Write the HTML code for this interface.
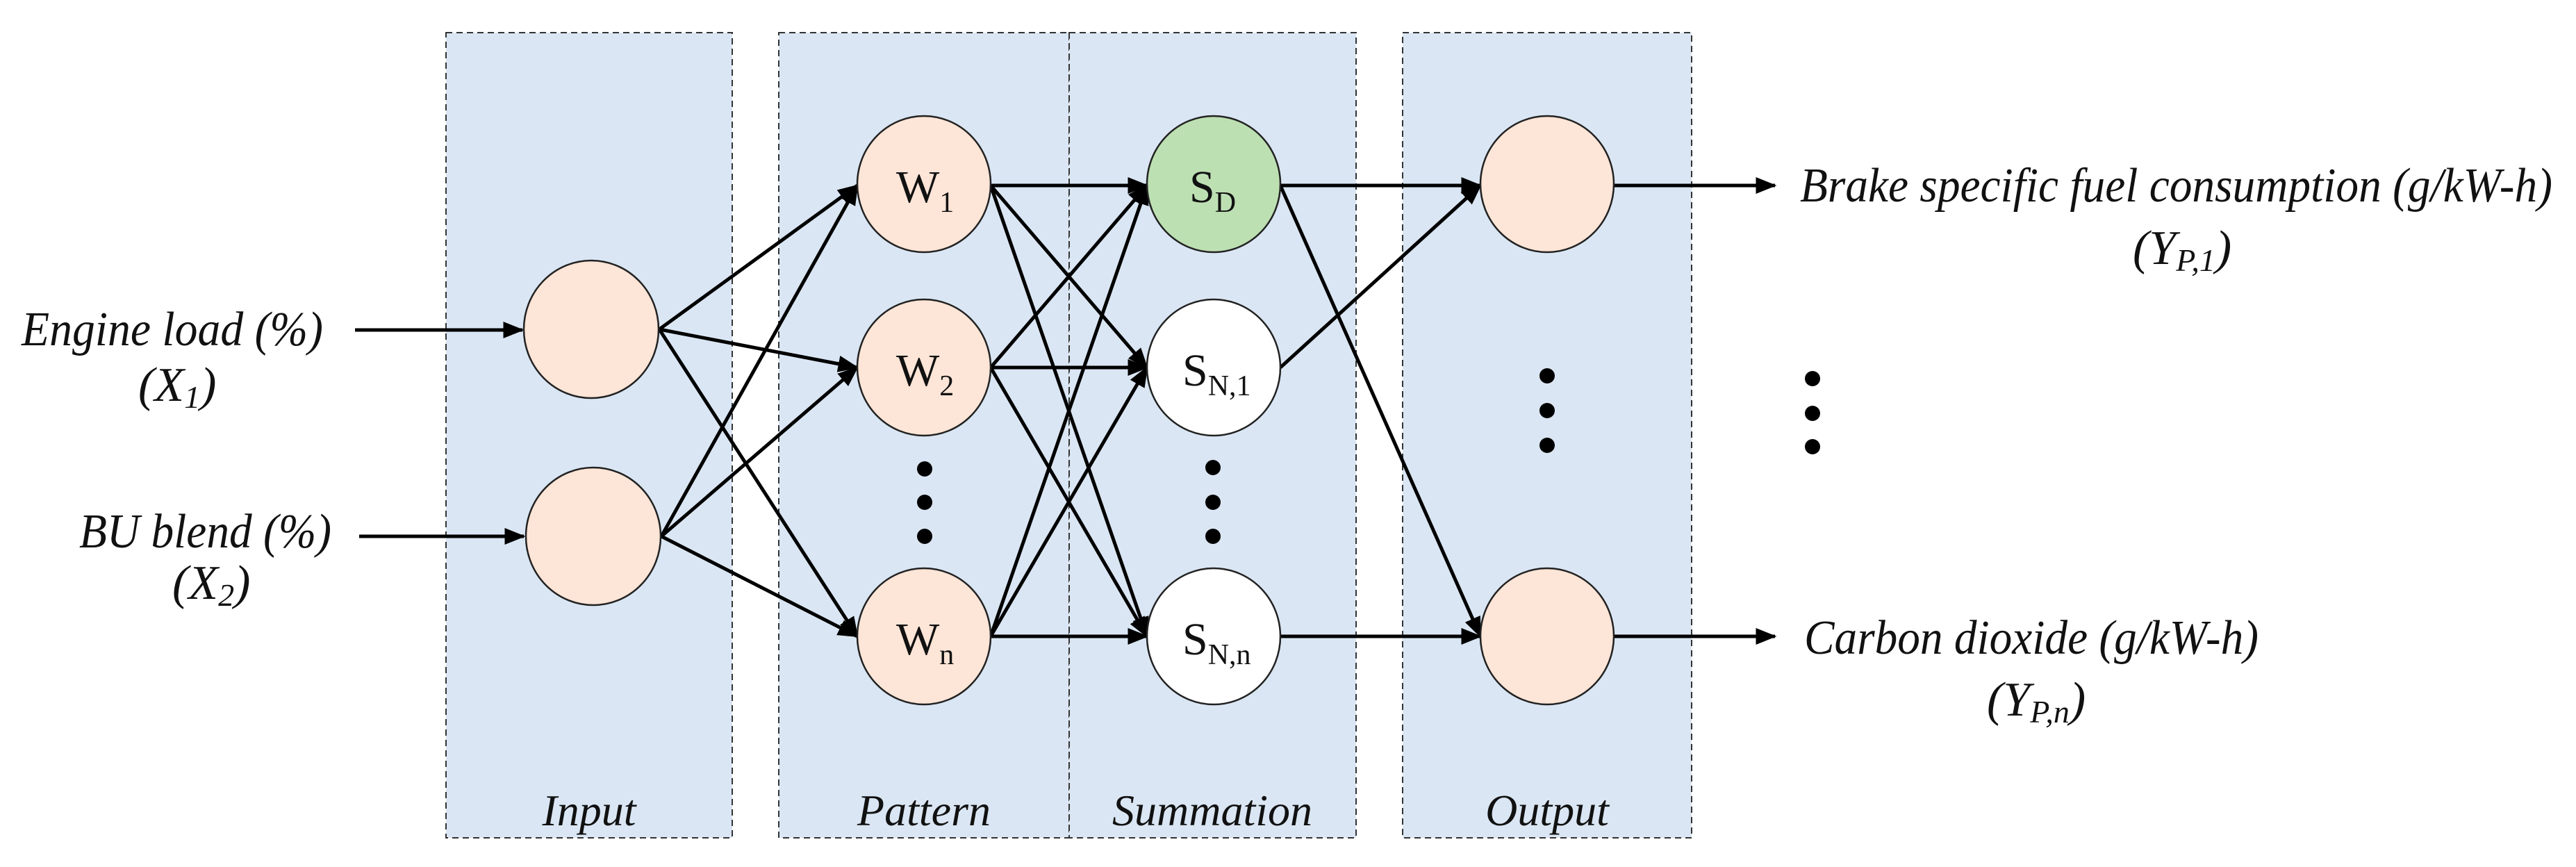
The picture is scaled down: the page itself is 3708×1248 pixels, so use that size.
<!DOCTYPE html>
<html><head><meta charset="utf-8"><style>
html,body{margin:0;padding:0;background:#fff;}
svg{display:block;}
</style></head><body>
<svg width="3708" height="1248" viewBox="0 0 3708 1248" xmlns="http://www.w3.org/2000/svg" font-family="'Liberation Serif', 'Times New Roman', serif" fill="#111">
<defs>
<marker id="a" markerWidth="6" markerHeight="6" refX="5.5" refY="3" orient="auto" markerUnits="strokeWidth">
<path d="M0,0.6 L6,3 L0,5.4 Z" fill="#000"/>
</marker>
</defs>
<g fill="#dae6f3" stroke="#333" stroke-width="2" stroke-dasharray="9,6">
<rect x="642" y="47" width="412" height="1159"/>
<rect x="1121" y="47" width="418" height="1159"/>
<rect x="1539" y="47" width="413" height="1159"/>
<rect x="2019" y="47" width="416" height="1159"/>
</g>
<g stroke="#000" stroke-width="5" fill="none" marker-end="url(#a)">
<line x1="511" y1="475" x2="752" y2="475"/>
<line x1="517" y1="772" x2="754" y2="772"/>
<line x1="949" y1="474" x2="1234" y2="267"/>
<line x1="949" y1="474" x2="1234" y2="529"/>
<line x1="949" y1="474" x2="1234" y2="916"/>
<line x1="952" y1="772" x2="1234" y2="267"/>
<line x1="952" y1="772" x2="1234" y2="529"/>
<line x1="952" y1="772" x2="1234" y2="916"/>
<line x1="1426" y1="267" x2="1651" y2="267"/>
<line x1="1426" y1="267" x2="1651" y2="529"/>
<line x1="1426" y1="267" x2="1651" y2="916"/>
<line x1="1426" y1="529" x2="1651" y2="267"/>
<line x1="1426" y1="529" x2="1651" y2="529"/>
<line x1="1426" y1="529" x2="1651" y2="916"/>
<line x1="1426" y1="916" x2="1651" y2="267"/>
<line x1="1426" y1="916" x2="1651" y2="529"/>
<line x1="1426" y1="916" x2="1651" y2="916"/>
<line x1="1843" y1="267" x2="2131" y2="267"/>
<line x1="1843" y1="267" x2="2131" y2="916"/>
<line x1="1843" y1="529" x2="2131" y2="267"/>
<line x1="1843" y1="916" x2="2131" y2="916"/>
<line x1="2323" y1="267" x2="2555" y2="267"/>
<line x1="2323" y1="916" x2="2555" y2="916"/>
</g>
<g stroke="#222" stroke-width="2.5">
<ellipse cx="851" cy="474" rx="97" ry="99" fill="#fde5d7"/>
<ellipse cx="854" cy="772" rx="97" ry="99" fill="#fde5d7"/>
<ellipse cx="1330" cy="265" rx="96" ry="98" fill="#fde5d7"/>
<ellipse cx="1330" cy="529" rx="96" ry="98" fill="#fde5d7"/>
<ellipse cx="1330" cy="916" rx="96" ry="98" fill="#fde5d7"/>
<ellipse cx="1747" cy="265" rx="96" ry="98" fill="#bde0b3"/>
<ellipse cx="1747" cy="529" rx="96" ry="98" fill="#ffffff"/>
<ellipse cx="1747" cy="916" rx="96" ry="98" fill="#ffffff"/>
<ellipse cx="2227" cy="265" rx="96" ry="98" fill="#fde5d7"/>
<ellipse cx="2227" cy="916" rx="96" ry="98" fill="#fde5d7"/>
</g>
<g fill="#000">
<circle cx="1331" cy="675" r="11"/><circle cx="1331" cy="723" r="11"/><circle cx="1331" cy="772" r="11"/>
<circle cx="1746" cy="673" r="11"/><circle cx="1746" cy="723" r="11"/><circle cx="1746" cy="772" r="11"/>
<circle cx="2227" cy="541" r="11"/><circle cx="2227" cy="591" r="11"/><circle cx="2227" cy="641" r="11"/>
<circle cx="2609" cy="545" r="11"/><circle cx="2609" cy="595" r="11"/><circle cx="2609" cy="643" r="11"/>
</g>
<g font-size="66">
<text x="1290" y="291">W<tspan font-size="42" dy="14">1</tspan></text>
<text x="1290" y="555">W<tspan font-size="42" dy="14">2</tspan></text>
<text x="1290" y="942">W<tspan font-size="42" dy="14">n</tspan></text>
<text x="1712" y="291">S<tspan font-size="42" dy="14">D</tspan></text>
<text x="1702" y="555">S<tspan font-size="42" dy="14">N,1</tspan></text>
<text x="1702" y="942">S<tspan font-size="42" dy="14">N,n</tspan></text>
</g>
<g font-style="italic" font-size="70">
<text x="31" y="497" textLength="434" lengthAdjust="spacingAndGlyphs">Engine load (%)</text>
<text x="199" y="577">(X<tspan font-size="46" dy="10">1</tspan><tspan dy="-10">)</tspan></text>
<text x="114" y="788" textLength="363" lengthAdjust="spacingAndGlyphs">BU blend (%)</text>
<text x="248" y="862">(X<tspan font-size="46" dy="10">2</tspan><tspan dy="-10">)</tspan></text>
<text x="2591" y="290" textLength="1083" lengthAdjust="spacingAndGlyphs">Brake specific fuel consumption (g/kW-h)</text>
<text x="3070" y="380">(Y<tspan font-size="46" dy="10">P,1</tspan><tspan dy="-10">)</tspan></text>
<text x="2597" y="941" textLength="654" lengthAdjust="spacingAndGlyphs">Carbon dioxide (g/kW-h)</text>
<text x="2860" y="1030">(Y<tspan font-size="46" dy="10">P,n</tspan><tspan dy="-10">)</tspan></text>
</g>
<g font-style="italic" font-size="64" text-anchor="middle">
<text x="848" y="1188">Input</text>
<text x="1330" y="1188">Pattern</text>
<text x="1745" y="1188">Summation</text>
<text x="2227" y="1188">Output</text>
</g>
</svg>
</body></html>
